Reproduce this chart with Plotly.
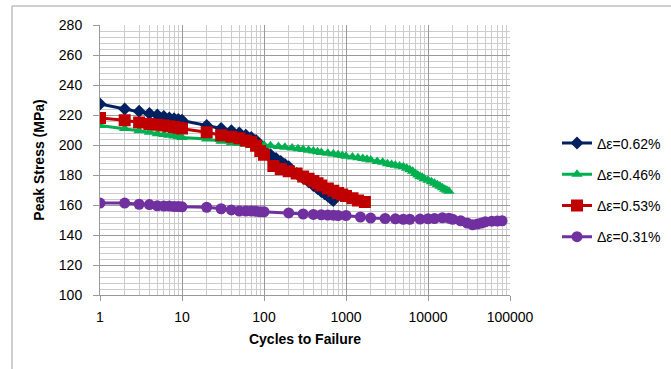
import plotly.graph_objects as go

# ---- data ----
names = ["Δε=0.62%", "Δε=0.46%", "Δε=0.53%", "Δε=0.31%"]

cyc_062 = [1,2,3,4,5,6,7,8,9,10,20,30,40,50,60,70,80,90,100,120,140,160,180,200,250,300,350,400,450,500,550,600,650,700]
str_062 = [227.3,224,222.5,221,220,219,218,217.5,217,216.5,213,211,209.5,208,206.5,205,203,200,196.5,193.5,191,189,187,185.5,181,178,175.5,173,171,169,167.5,166,164.5,163]

cyc_046 = [1,2,3,4,5,6,7,8,9,10,20,30,40,50,60,70,80,90,100,120,150,180,220,260,300,350,400,450,500,600,700,800,900,1000,
           1200,1400,1600,1800,2000,2400,2800,3200,3600,4000,4500,5000,5500,6000,6500,7000,7500,8000,8500,9000,
           10000,11000,12000,13000,14000,15000,16000,17000,18000]
str_046 = [213,211,209.5,208.5,207.5,207,206.5,206,205.5,205,204,202.5,201.5,201,200.5,200.5,200,200,200,199.5,199,198.5,198,197.5,197,196.5,196,195.5,195,194.5,194,193.5,193,192.5,
           192,191.5,191,190.5,190,189,188.5,187.5,187,186.5,186,185.5,184.5,183.5,182.5,181,180,179,178.5,177.5,
           176.5,175.5,174.5,173.5,172.5,171.5,170.5,169.8,169.2]

cyc_053 = [1,2,3,4,5,6,7,8,9,10,20,30,40,50,60,70,80,90,100,130,160,200,250,300,350,400,450,500,600,700,800,900,1000,1200,1400,1700]
str_053 = [218,216.5,215,214,213.5,213,212.5,212,211.5,211,208.5,206.5,205.5,204.5,203,202,199.5,196,193.5,186,184,182.5,181,179,177.5,176,174.5,173,171,169.5,168,167,166,164.5,163,162]

cyc_031 = [1,2,3,4,5,6,7,8,9,10,20,30,40,50,60,70,80,90,100,200,300,400,500,600,700,800,1000,1500,2000,3000,4000,5000,6000,8000,
           10000,12000,15000,18000,20000,25000,30000,35000,40000,45000,50000,60000,70000,80000]
str_031 = [161.3,161.3,160.5,160.3,159.5,159.3,159.3,159,159,158.8,158.5,157.5,156.7,156,156,156,155.8,155.5,155.5,154.7,154,153.7,153.5,153.3,153.2,153,153,152,151.3,151,150.8,150.5,150.5,150.6,
           150.8,151,151.5,151.2,150.5,149.5,148,146.8,147.3,148,148.8,149.2,149.3,149.5]

x_tickvals = [1, 10, 100, 1000, 10000, 100000]
x_ticktext = ["1", "10", "100", "1000", "10000", "100000"]

colors = ["#002060", "#00B050", "#C00000", "#7030A0"]
symbols = ["diamond", "triangle-up", "square", "circle"]
sizes = [10, 10, 12, 11]

series = [(cyc_062, str_062), (cyc_046, str_046), (cyc_053, str_053), (cyc_031, str_031)]

FONT = "Liberation Sans, Arial, sans-serif"

fig = go.Figure()
for i, (cx, sy) in enumerate(series):
    fig.add_trace(go.Scatter(
        x=cx, y=sy, mode="lines+markers", name=names[i], legendgroup=names[i],
        line=dict(color=colors[i], width=3),
        marker=dict(symbol=symbols[i], size=sizes[i], color=colors[i]),
    ))

major = "#999999"
minor = "#CCCCCC"

fig.update_layout(
    width=671, height=369,
    margin=dict(l=100, r=161, t=25, b=74, autoexpand=False),
    paper_bgcolor="white", plot_bgcolor="white",
    font=dict(family=FONT, size=14, color="black"),
    showlegend=True,
    legend=dict(x=(557-100)/410, xanchor="left", y=1-(190-25)/270, yanchor="middle",
                font=dict(size=14, family=FONT), tracegroupgap=10, itemwidth=30,
                bgcolor="rgba(0,0,0,0)"),
    xaxis=dict(type="log", range=[0, 5], tickvals=x_tickvals, ticktext=x_ticktext,
               showgrid=True, gridcolor=major, gridwidth=1,
               minor=dict(showgrid=True, gridcolor=minor, gridwidth=1, dtick="D1", ticks=""),
               showline=True, linecolor=major, linewidth=1,
               ticks="outside", ticklen=5, tickcolor=major, ticklabelstandoff=4,
               tickfont=dict(size=14), zeroline=False,
               title=dict(text="<b>Cycles to Failure</b>", font=dict(size=14), standoff=10)),
    yaxis=dict(range=[100, 280], dtick=20, tick0=100,
               showgrid=True, gridcolor=major, gridwidth=1,
               minor=dict(showgrid=True, gridcolor=minor, gridwidth=1, dtick=4, ticks=""),
               showline=True, linecolor=major, linewidth=1,
               ticks="outside", ticklen=6, tickcolor=major, ticklabelstandoff=8,
               tickfont=dict(size=14), zeroline=False,
               title=dict(text="<b>Peak Stress (MPa)</b>", font=dict(size=14), standoff=10)),
    shapes=[
        dict(type="line", xref="paper", yref="paper",
             x0=(12-100)/410, x1=(671-100)/410, y0=1+(25-6)/270, y1=1+(25-6)/270,
             line=dict(color="#BFBFBF", width=1.5)),
        dict(type="line", xref="paper", yref="paper",
             x0=(12-100)/410, x1=(12-100)/410, y0=1+(25-6)/270, y1=-(369-295)/270,
             line=dict(color="#BFBFBF", width=1.5)),
    ],
)

fig.write_html("out.html")
